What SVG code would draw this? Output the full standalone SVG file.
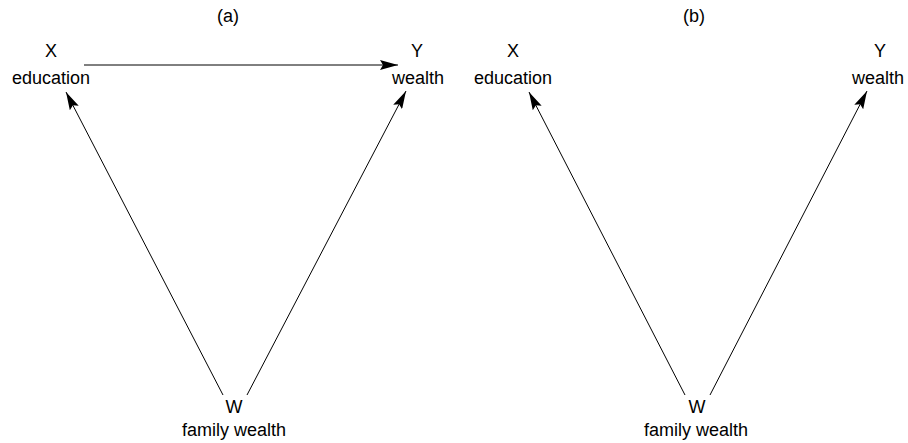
<svg xmlns="http://www.w3.org/2000/svg" width="908" height="443" viewBox="0 0 908 443">
<style>
text{font-family:"Liberation Sans",Arial,sans-serif;font-size:18px;fill:#000;text-anchor:middle}
.e{stroke:#000;stroke-width:1;fill:none;marker-end:url(#ah)}
</style>
<defs>
<marker id="ah" viewBox="0 0 18 10" refX="18" refY="5" markerWidth="18" markerHeight="10" markerUnits="userSpaceOnUse" orient="auto">
<path d="M0,0 L18,5 L0,10 L3,5 Z" fill="#000"/>
</marker>
</defs>
<rect width="908" height="443" fill="#fff"/>
<text x="228" y="22">(a)</text>
<text x="694" y="22">(b)</text>
<g id="connectors">
<line class="e" x1="84" y1="65" x2="398" y2="65"/>
<line class="e" x1="223" y1="395" x2="66" y2="92"/>
<line class="e" x1="247" y1="395" x2="406" y2="91"/>
<line class="e" x1="685" y1="395" x2="529" y2="92"/>
<line class="e" x1="710" y1="395" x2="867" y2="91"/>
</g>
<g id="a-X"><text x="51" y="57">X</text><text x="51" y="84">education</text></g>
<g id="a-Y"><text x="417" y="57">Y</text><text x="418" y="84">wealth</text></g>
<g id="a-W"><text x="234" y="413">W</text><text x="234" y="436">family wealth</text></g>
<g id="b-X"><text x="513" y="57">X</text><text x="513" y="84">education</text></g>
<g id="b-Y"><text x="880" y="57">Y</text><text x="878" y="84">wealth</text></g>
<g id="b-W"><text x="697" y="413">W</text><text x="696" y="436">family wealth</text></g>
</svg>
